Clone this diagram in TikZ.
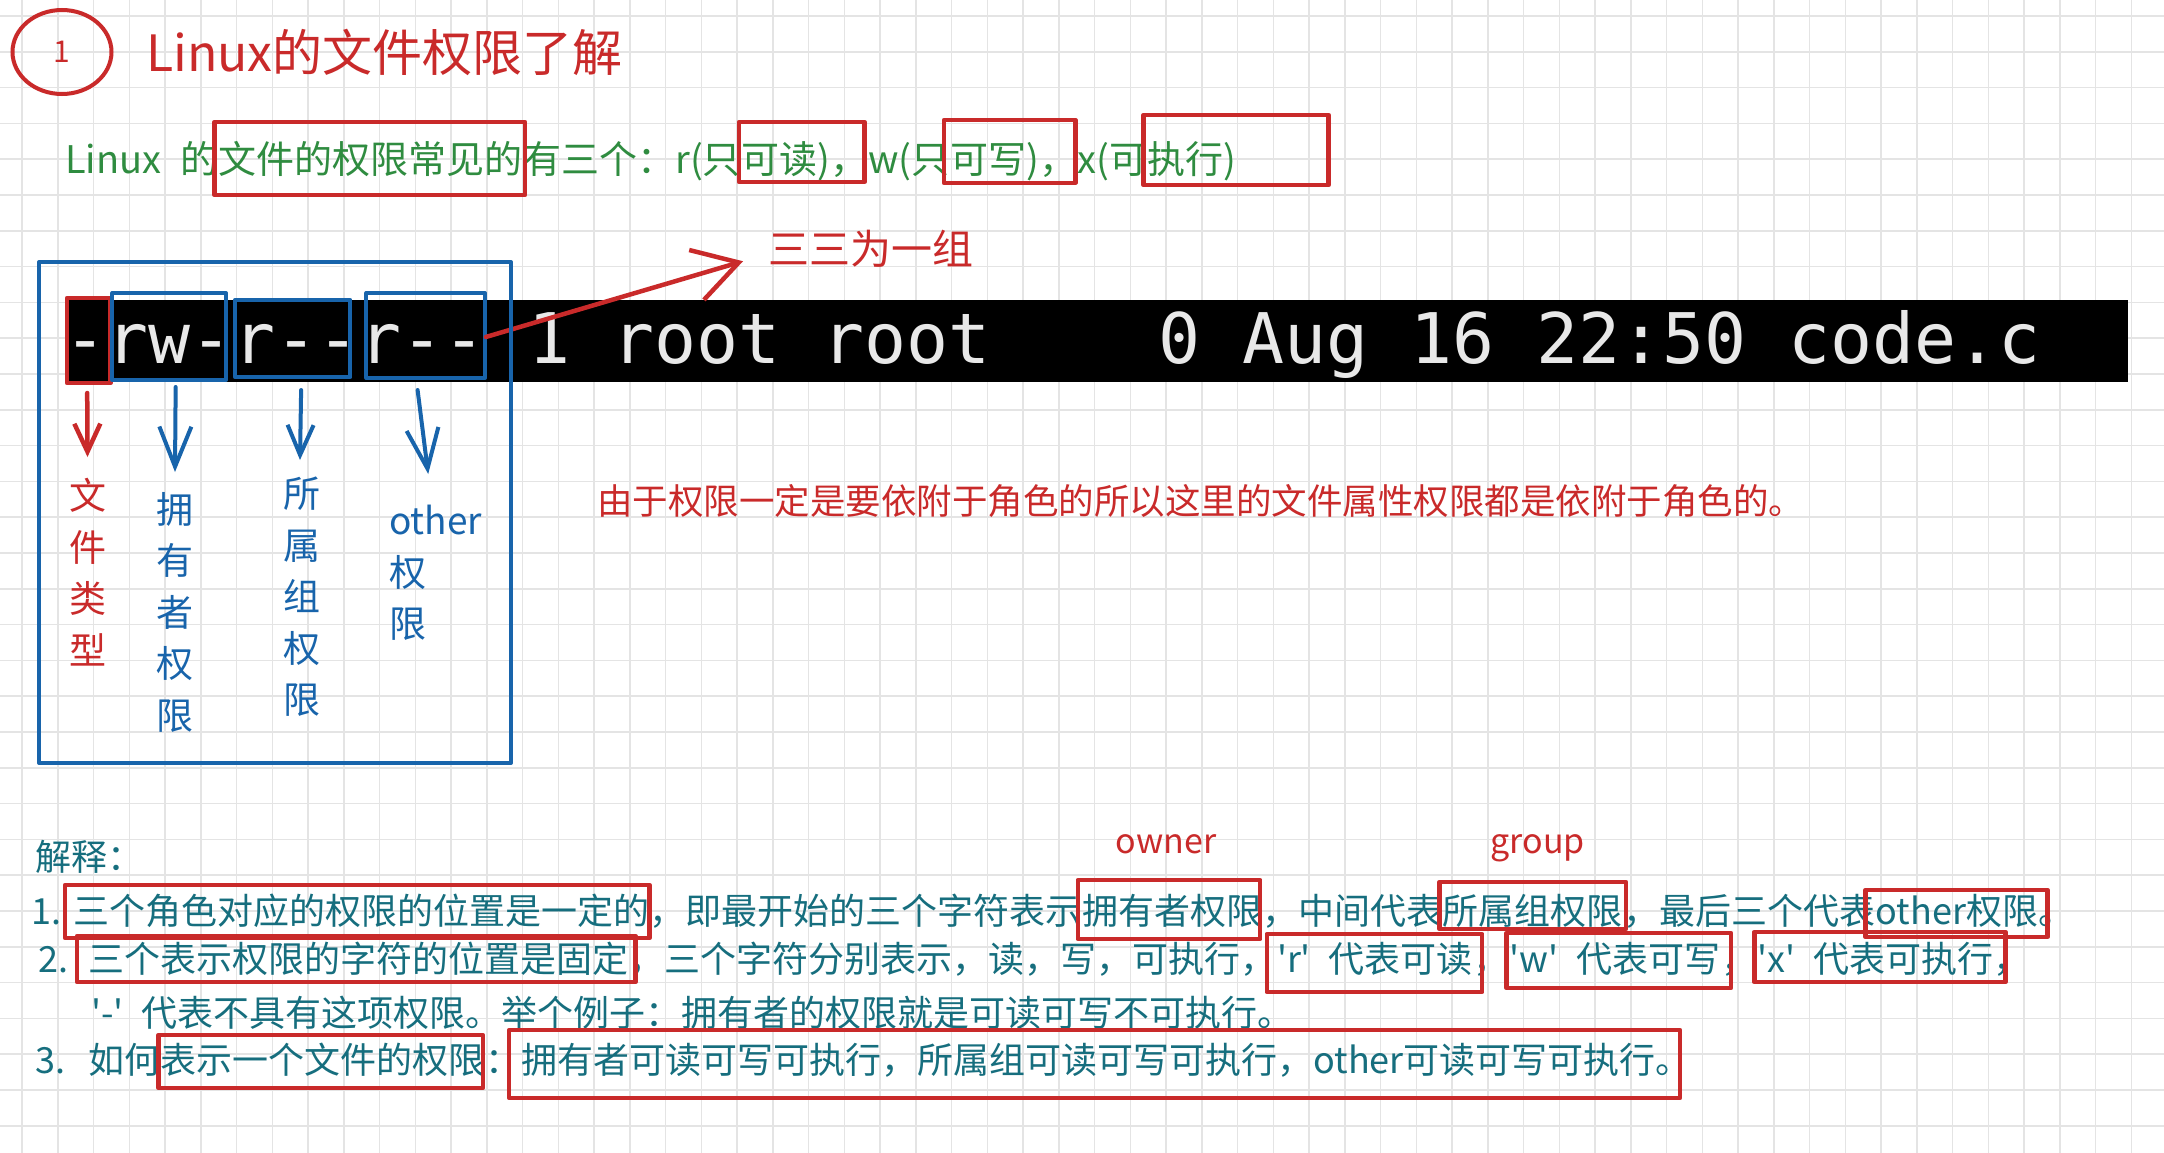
\documentclass[tikz,border=0pt]{standalone}
\usepackage{fontspec}
\setmainfont{Noto Sans CJK SC}[Ligatures=TeXOff]
\setmonofont{DejaVu Sans Mono}
\usetikzlibrary{arrows.meta,shapes.geometric}
\definecolor{exred}{RGB}{201,42,42}
\definecolor{exblue}{RGB}{24,100,171}
\definecolor{exgreen}{RGB}{47,140,64}
\definecolor{exteal}{RGB}{22,110,126}
\definecolor{gridgray}{RGB}{228,228,228}
\definecolor{termgray}{RGB}{232,232,232}
\newcommand{\setsz}[2]{\fontsize{#1pt}{#2pt}\selectfont}

\begin{document}
\begin{tikzpicture}[x=1pt,y=-1pt,every node/.style={inner sep=0pt},
    gridline/.style={draw=gridgray,line width=1.5pt},
    redbox/.style={draw=exred,line width=4.5pt,line join=round},
    bluebox/.style={draw=exblue,line width=4pt,line join=round},
    redarrow/.style={draw=exred,line width=4.5pt,line cap=round,-{Straight Barb[length=28pt,width=26pt]}},
    bluearrow/.style={draw=exblue,line width=4pt,line cap=round,-{Straight Barb[length=40pt,width=32pt]}},
    greentxt/.style={text=exgreen,font=\setsz{38}{46},anchor=base west},
    tealtxt/.style={text=exteal,font=\setsz{36}{44},anchor=base west},
    termtxt/.style={text=termgray,font=\ttfamily\setsz{69.8}{80},anchor=base west},
    vlabel/.style={font=\setsz{37}{51.5},align=center,anchor=north}]
    \fill[white] (0,0) rectangle (2164,1153);
    \useasboundingbox (0,0) rectangle (2164,1153);
    \foreach \i in {0,...,60} \draw[gridline] ({22+35.75*\i},0) -- ({22+35.75*\i},1153);
    \foreach \j in {0,...,32} \draw[gridline] (0,{16+35.8*\j}) -- (2164,{16+35.8*\j});

    \node[ellipse,draw=exred,line width=4pt,minimum width=99pt,minimum height=84pt,text=exred,font=\setsz{30}{34}] (num) at (62,52) {1};
    \node[anchor=base west,text=exred,font=\setsz{50}{58}] (title) at (146,72) {Linux的文件权限了解};

    \node[greentxt] (g1) at (65,174) {Linux\enspace 的};
    \node[greentxt] (g2) at (g1.base east) {文件的权限常见的};
    \node[greentxt] (g3) at (g2.base east) {有三个：r(只};
    \node[greentxt] (g4) at (g3.base east) {可读)，};
    \node[greentxt] (g5) at (g4.base east) {w(只};
    \node[greentxt] (g6) at (g5.base east) {可写)，};
    \node[greentxt] (g7) at (g6.base east) {x(可};
    \node[greentxt] (g8) at (g7.base east) {执行)};
    \draw[redbox] ([shift={(-4,-52)}]g2.base west) rectangle ([shift={(2,21)}]g2.base east);
    \draw[redbox] ([shift={(-2,-52)}]g4.base west) rectangle ([shift={(-4,8)}]g4.base east);
    \draw[redbox] ([shift={(-6,-54)}]g6.base west) rectangle ([shift={(-2,9)}]g6.base east);
    \draw[redbox] ([shift={(-4,-59)}]g8.base west) rectangle ([shift={(92,11)}]g8.base east);

    \node[anchor=base west,text=exred,font=\setsz{41}{48}] (grp) at (768,264) {三三为一组};

    \fill[black] (66,300) rectangle (2128,382);
    \node[termtxt] (t0) at (64,363) {-};
    \node[termtxt] (t1) at (t0.base east) {rw-};
    \node[termtxt] (t2) at (t1.base east) {r--};
    \node[termtxt] (t3) at (t2.base east) {r--};
    \node[termtxt] (t4) at (t3.base east) {\ 1 root root\ \ \ \ 0 Aug 16 22:50 code.c};
    \draw[redbox] ([shift={(3,-65)}]t0.base west) rectangle ([shift={(4,20)}]t0.base east);
    \draw[bluebox] ([shift={(6,-70)}]t1.base west) rectangle ([shift={(-7,17)}]t1.base east);
    \draw[bluebox] ([shift={(2,-63)}]t2.base west) rectangle ([shift={(-9,14)}]t2.base east);
    \draw[bluebox] ([shift={(7,-70)}]t3.base west) rectangle ([shift={(-1,15)}]t3.base east);
    \draw[redarrow,-{Straight Barb[length=44pt,width=52pt]}] ([shift={(0,-26)}]t3.base east) -- ([shift={(-25,13)}]grp.west);

    \draw[bluebox] (39,262) rectangle (511,763);
    \node[vlabel,text=exred] (ftype) at (87.5,478) {文\\件\\类\\型};
    \node[vlabel,text=exblue] (fowner) at (175,492) {拥\\有\\者\\权\\限};
    \node[vlabel,text=exblue] (fgroup) at (302,477) {所\\属\\组\\权\\限};
    \node[vlabel,text=exblue,align=left,anchor=north west] (fother) at (389,505) {other\\权\\限};
    \draw[redarrow] ([shift={(2,30)}]t0.base) -- ([shift={(0,-21)}]ftype.north);
    \draw[bluearrow] ([shift={(6,24)}]t1.base) -- ([shift={(0,-20)}]fowner.north);
    \draw[bluearrow,-{Straight Barb[length=30pt,width=26pt]}] ([shift={(5,27)}]t2.base) -- ([shift={(-2,-17)}]fgroup.north);
    \draw[bluearrow] ([shift={(-5,27)}]t3.base) -- ([shift={(-7.5,-31)}]fother.north);

    \node[anchor=base west,text=exred,font=\setsz{35.5}{42}] (note) at (597,514) {由于权限一定是要依附于角色的所以这里的文件属性权限都是依附于角色的。};

    \node[tealtxt] (expl) at (35,870) {解释：};
    \node[tealtxt] (e1) at (31,924) {1.};
    \node[tealtxt] (e2) at (73,924) {三个角色对应的权限的位置是一定的};
    \node[tealtxt] (e3) at (e2.base east) {，即最开始的三个字符表示};
    \node[tealtxt] (e4) at (e3.base east) {拥有者权限};
    \node[tealtxt] (e5) at (e4.base east) {，中间代表};
    \node[tealtxt] (e6) at (e5.base east) {所属组权限};
    \node[tealtxt] (e7) at (e6.base east) {，最后三个代表};
    \node[tealtxt] (e8) at (e7.base east) {other权限};
    \node[tealtxt] (e9) at (e8.base east) {。};
    \draw[redbox] ([shift={(-8,-39)}]e2.base west) rectangle ([shift={(0,14)}]e2.base east);
    \draw[redbox] ([shift={(-4,-44)}]e4.base west) rectangle ([shift={(-2,15)}]e4.base east);
    \draw[redbox] ([shift={(-3,-42)}]e6.base west) rectangle ([shift={(3,5)}]e6.base east);
    \draw[redbox] ([shift={(-10,-34)}]e8.base west) rectangle ([shift={(9,13)}]e8.base east);
    \node[anchor=base,text=exred,font=\setsz{34}{40}] (own) at ([shift={(-6,-71)}]e4.base) {owner};
    \node[anchor=base,text=exred,font=\setsz{34}{40}] (grpl) at ([shift={(5,-71)}]e6.base) {group};

    \node[tealtxt] (f1) at (38,972) {2.};
    \node[tealtxt] (f2) at (88,972) {三个表示权限的字符的位置是固定};
    \node[tealtxt] (f3) at (f2.base east) {，三个字符分别表示，读，写，可执行，};
    \node[tealtxt] (f4) at (f3.base east) {'r'\enspace 代表可读};
    \node[tealtxt] (f5) at (f4.base east) {，};
    \node[tealtxt] (f6) at (f5.base east) {'w'\enspace 代表可写};
    \node[tealtxt] (f7) at (f6.base east) {，};
    \node[tealtxt] (f8) at (f7.base east) {'x'\enspace 代表可执行};
    \node[tealtxt] (f9) at (f8.base east) {，};
    \draw[redbox] ([shift={(-11,-36)}]f2.base west) rectangle ([shift={(7,10)}]f2.base east);
    \draw[redbox] ([shift={(-10,-38)}]f4.base west) rectangle ([shift={(9,20)}]f4.base east);
    \draw[redbox] ([shift={(-3,-39)}]f6.base west) rectangle ([shift={(10,16)}]f6.base east);
    \draw[redbox] ([shift={(-3,-40)}]f8.base west) rectangle ([shift={(12,10)}]f8.base east);

    \node[tealtxt] (l3) at (91,1026) {'-'\enspace 代表不具有这项权限。举个例子：拥有者的权限就是可读可写不可执行。};

    \node[tealtxt] (h1) at (35,1073) {3.};
    \node[tealtxt] (h2) at (88,1073) {如何};
    \node[tealtxt] (h3) at (h2.base east) {表示一个文件的权限};
    \node[tealtxt] (h4) at (h3.base east) {：};
    \node[tealtxt] (h5) at (h4.base east) {拥有者可读可写可执行，所属组可读可写可执行，other可读可写可执行。};
    \draw[redbox] ([shift={(-2,-38)}]h3.base west) rectangle ([shift={(-2,15)}]h3.base east);
    \draw[redbox] ([shift={(-12,-43)}]h5.base west) rectangle ([shift={(-12,25)}]h5.base east);
\end{tikzpicture}
\end{document}
